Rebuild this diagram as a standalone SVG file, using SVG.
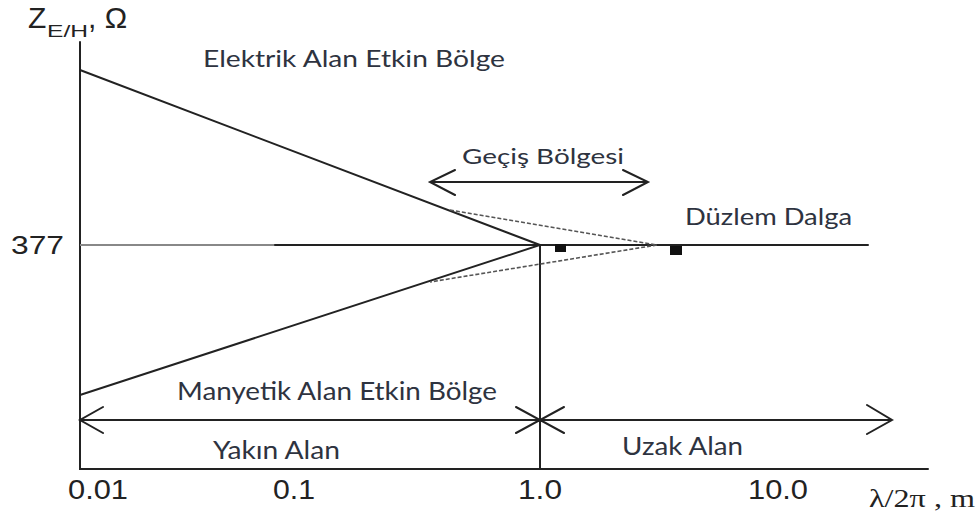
<svg xmlns="http://www.w3.org/2000/svg" width="979" height="518" viewBox="0 0 979 518">
<style>
.ln{stroke:#222;stroke-width:2;fill:none;stroke-linecap:round}
.dash{stroke:#555;stroke-width:1.6;fill:none;stroke-dasharray:4 2}
.lbl{font-family:Lato,"Open Sans",sans-serif;fill:#2e3340}
.num{font-family:"Liberation Sans",Arial,sans-serif;fill:#222}
.ser{font-family:"Liberation Serif","Times New Roman",serif;fill:#222}
</style>
<rect width="979" height="518" fill="#fff"/>
<g id="axes">
<path class="ln" d="M80,42 V469 H928"/>
<text class="num" x="28" y="28" font-size="30">Z</text>
<text class="num" x="47" y="37" font-size="16" textLength="41" lengthAdjust="spacingAndGlyphs">E/H</text>
<text class="num" x="88" y="28" font-size="30">, Ω</text>
<text class="num" x="11" y="254" font-size="26" textLength="53" lengthAdjust="spacingAndGlyphs">377</text>
<text class="num" x="68" y="499" font-size="28" textLength="60" lengthAdjust="spacingAndGlyphs">0.01</text>
<text class="num" x="273" y="499" font-size="28" textLength="42" lengthAdjust="spacingAndGlyphs">0.1</text>
<text class="num" x="518" y="499" font-size="28" textLength="44" lengthAdjust="spacingAndGlyphs">1.0</text>
<text class="num" x="748" y="499" font-size="28" textLength="60" lengthAdjust="spacingAndGlyphs">10.0</text>
<text class="ser" x="869" y="507" font-size="25" textLength="106" lengthAdjust="spacingAndGlyphs">λ/2π , m</text>
</g>
<g id="connectors">
<path d="M80,245 H275" stroke="#888" stroke-width="2" fill="none"/>
<path class="ln" d="M275,245 H868"/>
<path class="ln" d="M80,70 L540,245 L80,395"/>
<path class="ln" d="M540,245 V469"/>
<path class="dash" d="M450,210 L657,245 L430,282"/>
<rect x="555" y="244" width="11" height="8" fill="#111"/>
<rect x="670" y="246" width="12" height="9" fill="#111"/>
<path class="ln" d="M430,182 H648 M455,170 L430,182 L455,195 M623,170 L648,182 L623,195"/>
<path class="ln" d="M80,420 H892 M103,407 L80,420 L103,433 M516,407 L540,420 L516,433 M564,407 L540,420 L564,433 M867,405 L892,420 L867,434"/>
</g>
<g id="electric">
<text class="lbl" x="203" y="67" font-size="24" textLength="302" lengthAdjust="spacingAndGlyphs">Elektrik Alan Etkin Bölge</text>
</g>
<g id="transition">
<text class="lbl" x="462" y="164" font-size="22" textLength="162" lengthAdjust="spacingAndGlyphs">Geçiş Bölgesi</text>
</g>
<g id="plane-wave">
<text class="lbl" x="685" y="225" font-size="24" textLength="167" lengthAdjust="spacingAndGlyphs">Düzlem Dalga</text>
</g>
<g id="magnetic">
<text class="lbl" x="177" y="400" font-size="25" textLength="320" lengthAdjust="spacingAndGlyphs">Manyetik Alan Etkin Bölge</text>
</g>
<g id="near">
<text class="lbl" x="213" y="459" font-size="25" textLength="127" lengthAdjust="spacingAndGlyphs">Yakın Alan</text>
</g>
<g id="far">
<text class="lbl" x="622" y="455" font-size="25" textLength="121" lengthAdjust="spacingAndGlyphs">Uzak Alan</text>
</g>
</svg>
